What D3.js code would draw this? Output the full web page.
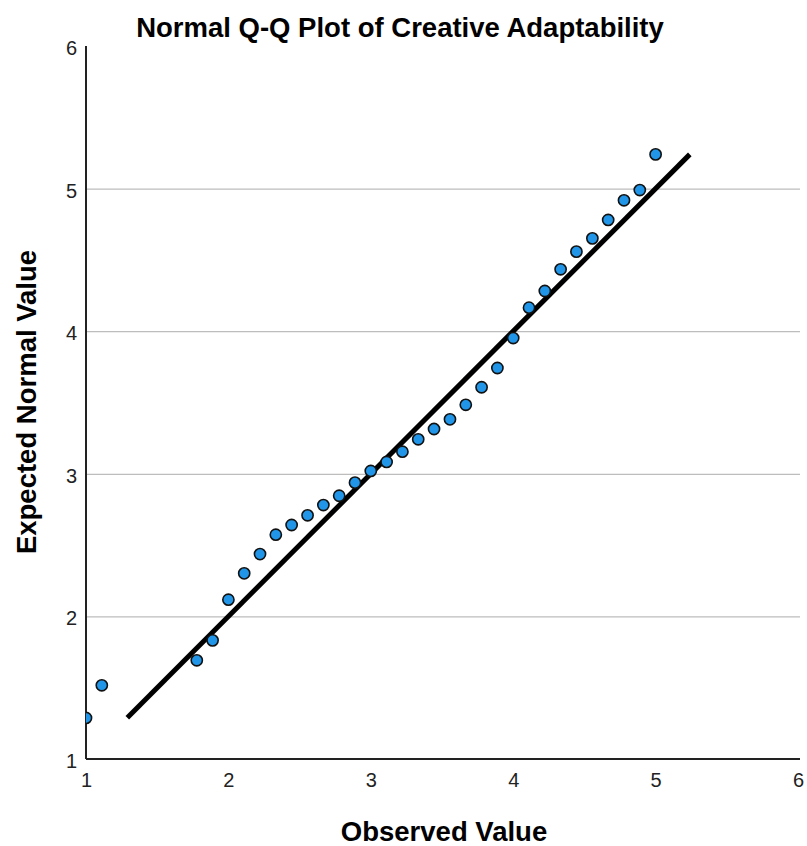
<!DOCTYPE html>
<html>
<head>
<meta charset="utf-8">
<script src="https://cdn.jsdelivr.net/npm/d3@7"></script>
<style>
  body { margin: 0; background: #fff; }
  text { font-family: "Liberation Sans", Arial, sans-serif; }
</style>
</head>
<body>
<svg id="chart" width="807" height="846"></svg>
<script>
var observed = [1.0, 1.111, 1.778, 1.889, 2.0, 2.111, 2.222, 2.333, 2.444, 2.556, 2.667,
    2.778, 2.889, 3.0, 3.111, 3.222, 3.333, 3.444, 3.556, 3.667, 3.778, 3.889, 4.0,
    4.111, 4.222, 4.333, 4.444, 4.556, 4.667, 4.778, 4.889, 5.0];
var expected = [1.288, 1.517, 1.692, 1.832, 2.117, 2.302, 2.437, 2.573, 2.641, 2.709, 2.781,
    2.846, 2.938, 3.02, 3.083, 3.155, 3.242, 3.314, 3.382, 3.484, 3.607, 3.742, 3.952,
    4.165, 4.282, 4.434, 4.558, 4.651, 4.78, 4.918, 4.99, 5.24];
var refLine = [1.29, 5.24];
var xTicks = [1, 2, 3, 4, 5, 6];
var yTicks = [1, 2, 3, 4, 5, 6];
var gridTicks = [2, 3, 4, 5];

var svg = d3.select("#chart"),
    plotLeft = 86,
    plotRight = 800,
    plotTop = 46,
    plotBottom = 759;

var x = d3.scaleLinear().domain([1, 6]).range([plotLeft, 798]),
    y = d3.scaleLinear().domain([1, 6]).range([plotBottom, plotTop]);

// gridlines
svg.append("g")
    .attr("transform", "translate(" + plotLeft + ",0)")
    .call(d3.axisLeft(y).tickValues(gridTicks).tickSize(-(plotRight - plotLeft)).tickFormat(""))
    .call(function(g) {
        g.select(".domain").remove();
        g.selectAll("line").attr("stroke", "#bdbdbd").attr("stroke-width", 1.3);
    });

// x axis
svg.append("g")
    .attr("transform", "translate(0," + plotBottom + ")")
    .call(d3.axisBottom(x).tickValues(xTicks).tickSize(0).tickFormat(d3.format("d")))
    .call(function(g) {
        g.select(".domain").remove();
        g.selectAll("text")
            .attr("y", 28).attr("dy", null)
            .attr("font-size", 20).attr("fill", "#222")
            .style("font-family", "'Liberation Sans', Arial, sans-serif");
    });

// y axis
svg.append("g")
    .attr("transform", "translate(" + plotLeft + ",0)")
    .call(d3.axisLeft(y).tickValues(yTicks).tickSize(0).tickFormat(d3.format("d")))
    .call(function(g) {
        g.select(".domain").remove();
        g.selectAll("text")
            .attr("x", -9).attr("dy", "0.42em")
            .attr("font-size", 20).attr("fill", "#222")
            .style("font-family", "'Liberation Sans', Arial, sans-serif");
    });

// axis lines
svg.append("line")
    .attr("x1", plotLeft).attr("x2", plotRight)
    .attr("y1", plotBottom).attr("y2", plotBottom)
    .attr("stroke", "#222").attr("stroke-width", 2);
svg.append("line")
    .attr("x1", plotLeft).attr("x2", plotLeft)
    .attr("y1", plotTop).attr("y2", plotBottom)
    .attr("stroke", "#222").attr("stroke-width", 2);

svg.append("clipPath").attr("id", "plot")
    .append("rect")
    .attr("x", plotLeft).attr("y", 0)
    .attr("width", plotRight - plotLeft + 7).attr("height", plotBottom);

// reference line
svg.append("line")
    .attr("x1", x(refLine[0])).attr("y1", y(refLine[0]))
    .attr("x2", x(refLine[1])).attr("y2", y(refLine[1]))
    .attr("stroke", "#000").attr("stroke-width", 5);

// points
svg.append("g")
    .attr("clip-path", "url(#plot)")
    .selectAll("circle")
    .data(observed)
    .enter().append("circle")
    .attr("cx", function(d) { return x(d); })
    .attr("cy", function(d, i) { return y(expected[i]); })
    .attr("r", 5.6)
    .attr("fill", "#2196e8")
    .attr("stroke", "#111")
    .attr("stroke-width", 1.6);

// titles
svg.append("text")
    .attr("x", 400).attr("y", 37)
    .attr("text-anchor", "middle")
    .attr("font-size", 27.5).attr("font-weight", "bold")
    .text("Normal Q-Q Plot of Creative Adaptability");

svg.append("text")
    .attr("x", 444).attr("y", 841)
    .attr("text-anchor", "middle")
    .attr("font-size", 27.5).attr("font-weight", "bold")
    .text("Observed Value");

svg.append("text")
    .attr("transform", "translate(36,402) rotate(-90)")
    .attr("text-anchor", "middle")
    .attr("font-size", 27.5).attr("font-weight", "bold")
    .text("Expected Normal Value");
</script>
</body>
</html>
